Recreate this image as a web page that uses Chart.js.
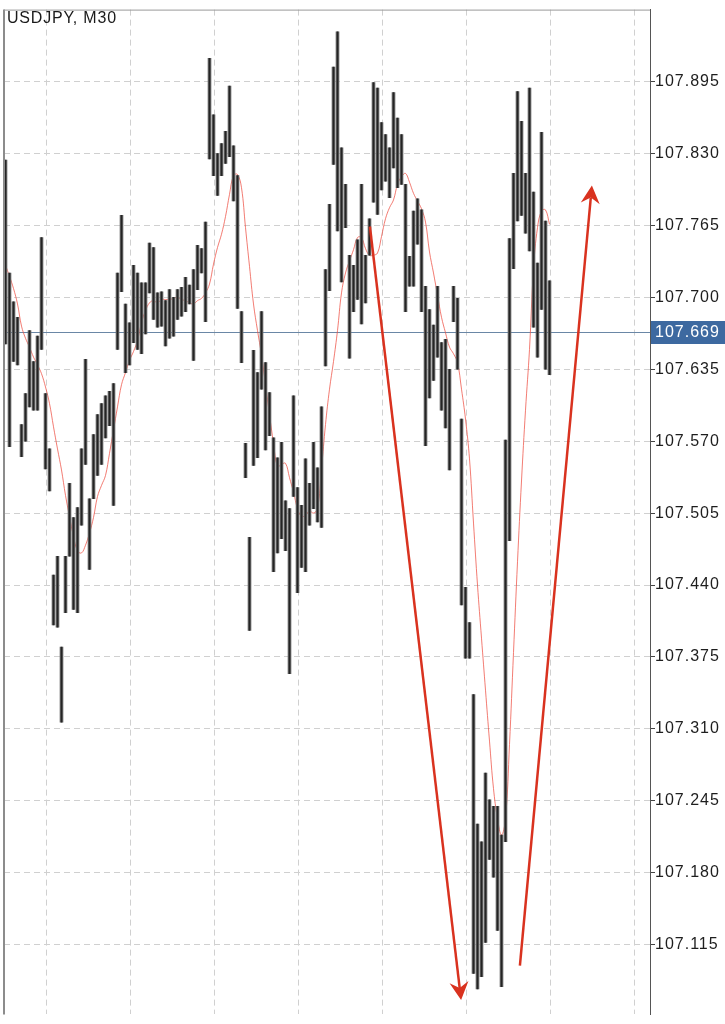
<!DOCTYPE html>
<html>
<head>
<meta charset="utf-8">
<title>USDJPY, M30</title>
<script src="https://cdn.jsdelivr.net/npm/chart.js@4.4.1/dist/chart.umd.min.js"></script>
<style>
  html, body { margin: 0; padding: 0; background: #fff; }
  #wrap { width: 725px; height: 1024px; }
</style>
</head>
<body>
<div id="wrap"><canvas id="chart" width="725" height="1024"></canvas></div>
<script>
// ---- data ----
const symbolTitle = 'USDJPY, M30';
const currentPrice = 107.669;

// one bar per M30 candle, left to right
const barHigh = [
  107.824,107.722,107.696,107.682,107.585,107.613,107.670,107.642,107.665,107.754,
  107.613,107.563,107.449,107.466,107.384,107.466,107.532,107.501,107.510,107.563,
  107.644,107.518,107.576,107.594,107.604,107.611,107.615,107.622,107.722,107.774,
  107.694,107.677,107.729,107.722,107.713,107.713,107.749,107.745,107.704,107.705,
  107.697,107.707,107.700,107.707,107.709,107.718,107.711,107.725,107.747,107.744,
  107.768,107.916,107.865,107.830,107.839,107.850,107.891,107.837,107.810,107.687,
  107.568,107.483,107.652,107.632,107.687,107.641,107.614,107.573,107.555,107.569,
  107.516,107.509,107.611,107.528,107.512,107.554,107.532,107.569,107.546,107.601,
  107.725,107.784,107.908,107.940,107.835,107.802,107.738,107.729,107.752,107.802,
  107.738,107.771,107.894,107.889,107.858,107.847,107.835,107.885,107.862,107.847,
  107.802,107.737,107.778,107.789,107.779,107.710,107.689,107.675,107.710,107.659,
  107.662,107.635,107.710,107.699,107.590,107.438,107.406,107.341,107.224,107.208,
  107.270,107.246,107.240,107.240,107.214,107.571,107.753,107.812,107.886,107.859,
  107.812,107.889,107.795,107.731,107.849,107.769,107.715
];
const barLow = [
  107.658,107.565,107.642,107.639,107.556,107.570,107.601,107.598,107.598,107.653,
  107.545,107.525,107.404,107.402,107.316,107.415,107.466,107.418,107.415,107.494,
  107.549,107.454,107.518,107.539,107.549,107.573,107.584,107.512,107.653,107.705,
  107.632,107.639,107.659,107.653,107.649,107.667,107.704,107.680,107.673,107.674,
  107.656,107.663,107.665,107.680,107.683,107.687,107.694,107.643,107.707,107.722,
  107.678,107.825,107.810,107.792,107.810,107.821,107.827,107.787,107.690,107.641,
  107.537,107.399,107.548,107.555,107.617,107.562,107.575,107.452,107.469,107.482,
  107.471,107.360,107.520,107.433,107.456,107.452,107.494,107.509,107.497,107.492,
  107.638,107.706,107.820,107.760,107.714,107.763,107.645,107.687,107.698,107.676,
  107.695,107.738,107.786,107.775,107.797,107.805,107.790,107.817,107.799,107.802,
  107.687,107.710,107.710,107.748,107.687,107.566,107.609,107.625,107.646,107.598,
  107.582,107.544,107.678,107.635,107.422,107.374,107.374,107.089,107.075,107.086,
  107.117,107.192,107.176,107.128,107.077,107.208,107.480,107.726,107.769,107.774,
  107.758,107.742,107.673,107.646,107.689,107.635,107.630
];
// moving average (red line)
const maLine = [
  107.729,107.719,107.708,107.694,107.674,107.663,107.655,107.646,107.639,107.631,
  107.619,107.604,107.583,107.563,107.544,107.521,107.502,107.484,107.471,107.469,
  107.476,107.487,107.501,107.520,107.530,107.539,107.559,107.580,107.601,107.621,
  107.632,107.643,107.651,107.661,107.677,107.688,107.695,107.697,107.695,107.698,
  107.698,107.698,107.699,107.700,107.698,107.697,107.695,107.694,107.697,107.699,
  107.704,107.712,107.730,107.745,107.757,107.773,107.793,107.810,107.811,107.799,
  107.763,107.728,107.694,107.670,107.648,107.621,107.594,107.568,107.547,107.549,
  107.550,107.537,107.524,107.509,107.502,107.503,107.507,107.505,107.509,107.545,
  107.585,107.617,107.642,107.670,107.704,107.722,107.733,107.743,107.754,107.754,
  107.744,107.738,107.738,107.740,107.755,107.771,107.781,107.788,107.802,107.809,
  107.812,107.804,107.794,107.787,107.780,107.768,107.741,107.722,107.702,107.682,
  107.668,107.655,107.649,107.641,107.617,107.590,107.554,107.496,107.440,107.392,
  107.345,107.299,107.256,107.229,107.214,107.229,107.296,107.379,107.461,107.534,
  107.598,107.653,107.726,107.763,107.778,107.779,107.766
];

// price axis
const yTicks = [107.115,107.180,107.245,107.310,107.375,107.440,107.505,107.570,107.635,107.700,107.765,107.830,107.895];
const priceMin = 107.052, priceMax = 107.960;

// time axis (bar index), vertical grid every 21 bars
const xMin = -0.375, xMax = 161.125;
const xGrid = [10.125, 31.125, 52.125, 73.125, 94.125, 115.125, 136.125, 157.125];

// drawn arrows: [barIndex, price] from -> to
const arrowDown = [[91.1, 107.764], [113.9, 107.065]];
const arrowUp   = [[128.6, 107.096], [146.6, 107.801]];

// ---- helpers ----
const FONT = '"Liberation Sans", Arial, sans-serif';

function drawArrow(ctx, x1, y1, x2, y2) {
  const ang = Math.atan2(y2 - y1, x2 - x1);
  const len = 18, half = 9.5, notch = 12;
  const ux = Math.cos(ang), uy = Math.sin(ang);
  const nx = -uy, ny = ux;
  const bx = x2 - ux * notch, by = y2 - uy * notch;
  const cx = x2 - ux * len,  cy = y2 - uy * len;
  ctx.save();
  ctx.strokeStyle = '#d9321f';
  ctx.fillStyle = '#d9321f';
  ctx.lineWidth = 2.5;
  ctx.beginPath();
  ctx.moveTo(x1, y1);
  ctx.lineTo(bx, by);
  ctx.stroke();
  ctx.beginPath();
  ctx.moveTo(x2, y2);
  ctx.lineTo(cx + nx * half, cy + ny * half);
  ctx.lineTo(bx, by);
  ctx.lineTo(cx - nx * half, cy - ny * half);
  ctx.closePath();
  ctx.fill();
  ctx.restore();
}

const decor = {
  id: 'decor',
  beforeDraw(chart) {
    const c = chart.ctx;
    c.save();
    c.fillStyle = '#fff';
    c.fillRect(0, 0, chart.width, chart.height);
    c.restore();
    c.letterSpacing = '1px';
  },
  beforeDatasetsDraw(chart) {
    // current price line
    const { ctx, chartArea: a, scales: { y } } = chart;
    const py = Math.round(y.getPixelForValue(currentPrice)) + 0.5;
    ctx.save();
    ctx.strokeStyle = '#6a87a6';
    ctx.lineWidth = 1;
    ctx.beginPath();
    ctx.moveTo(a.left, py);
    ctx.lineTo(a.right, py);
    ctx.stroke();
    ctx.restore();
  },
  afterDatasetsDraw(chart) {
    const { ctx, scales: { x, y } } = chart;
    [arrowDown, arrowUp].forEach(ar => {
      drawArrow(ctx,
        x.getPixelForValue(ar[0][0]), y.getPixelForValue(ar[0][1]),
        x.getPixelForValue(ar[1][0]), y.getPixelForValue(ar[1][1]));
    });
  },
  afterDraw(chart) {
    const { ctx, chartArea: a, scales: { y } } = chart;
    ctx.save();
    // frame: left and top
    ctx.strokeStyle = '#8c8c8c';
    ctx.lineWidth = 2;
    ctx.beginPath();
    ctx.moveTo(a.left, a.top);
    ctx.lineTo(a.left, a.bottom);
    ctx.stroke();
    ctx.lineWidth = 1;
    ctx.strokeStyle = '#999';
    ctx.beginPath();
    ctx.moveTo(a.left, a.top + 0.5);
    ctx.lineTo(a.right, a.top + 0.5);
    ctx.stroke();

    // current price label
    const py = y.getPixelForValue(currentPrice);
    ctx.fillStyle = '#3d69a0';
    ctx.fillRect(a.right + 1, Math.round(py) - 11, chart.width - a.right - 1, 23);
    ctx.fillStyle = '#fff';
    ctx.font = '16px ' + FONT;
    ctx.textBaseline = 'middle';
    ctx.textAlign = 'left';
    ctx.fillText(currentPrice.toFixed(3), a.right + 5, py + 1);

    // title
    ctx.fillStyle = '#1a1a1a';
    ctx.textBaseline = 'alphabetic';
    ctx.letterSpacing = '0.8px';
    ctx.fillText(symbolTitle, 7, 23);
    ctx.restore();
  }
};

// ---- chart ----
const barPts = barHigh.map((h, i) => ({ x: i, y: [barLow[i], h] }));
const maPts = maLine.map((v, i) => ({ x: i, y: v }));

new Chart(document.getElementById('chart'), {
  type: 'bar',
  data: {
    datasets: [
      {
        type: 'line',
        label: 'MA',
        data: maPts,
        borderColor: 'rgba(238,80,68,0.75)',
        borderWidth: 1,
        pointRadius: 0,
        tension: 0.4,
        order: 3
      },
      {
        label: 'range',
        data: barPts,
        backgroundColor: '#6c6c6c',
        barThickness: 3,
        grouped: false,
        order: 2
      },
      {
        label: 'core',
        data: barPts,
        backgroundColor: '#242424',
        barThickness: 1,
        grouped: false,
        order: 1
      }
    ]
  },
  options: {
    responsive: false,
    animation: false,
    layout: { padding: { left: 4, top: 4, right: 0, bottom: 0 } },
    plugins: { legend: { display: false }, tooltip: { enabled: false } },
    scales: {
      x: {
        type: 'linear',
        offset: false,
        min: xMin,
        max: xMax,
        afterBuildTicks: s => { s.ticks = xGrid.map(v => ({ value: v })); },
        afterFit: s => { s.height = 0; },
        ticks: { display: false },
        grid: { offset: false, color: '#d0d0d0', drawTicks: false, lineWidth: 1 },
        border: { display: false, dash: [6, 4] }
      },
      y: {
        position: 'right',
        min: priceMin,
        max: priceMax,
        afterBuildTicks: s => { s.ticks = yTicks.map(v => ({ value: v })); },
        afterFit: s => { s.width = 75; },
        ticks: {
          color: '#1e1e1e',
          padding: 0,
          font: { family: FONT, size: 16 },
          callback: v => Number(v).toFixed(3)
        },
        grid: { color: '#d0d0d0', lineWidth: 1, tickColor: '#444', tickLength: 5, tickBorderDash: [] },
        border: { display: true, color: '#555', width: 1, dash: [6, 4] }
      }
    }
  },
  plugins: [decor]
});
</script>
</body>
</html>
